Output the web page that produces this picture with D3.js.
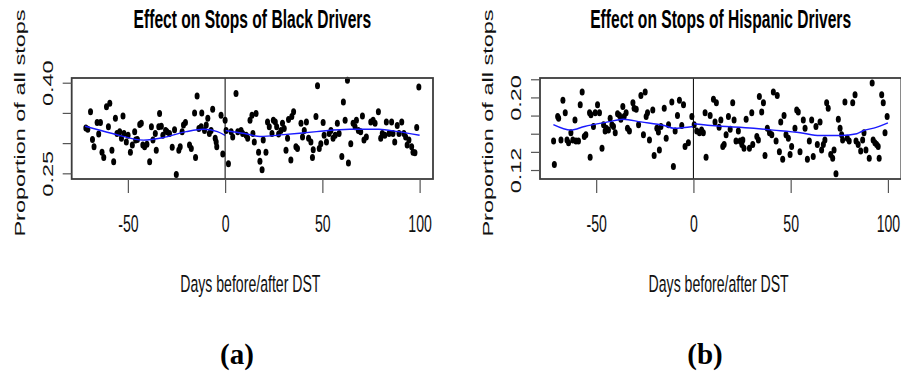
<!DOCTYPE html>
<html>
<head>
<meta charset="utf-8">
<script src="https://cdn.jsdelivr.net/npm/d3@7"></script>
<style>
body { margin: 0; background: #fff; }
svg { display: block; }
text { font-family: "Liberation Sans", Arial, sans-serif; }
</style>
</head>
<body>
<script>
// ---- data ----
var xTicks = [-50, 0, 50, 100];

var blackDays = [
  -71.6, -70.6, -69.2, -68.2, -67.4, -65.8, -65.0, -64.1, -63.3, -62.4,
  -61.0, -60.0, -59.3, -58.2, -57.3, -56.4, -55.6, -54.2, -53.3, -52.5,
  -52.0, -50.8, -49.9, -48.7, -47.7, -46.5, -46.0, -45.1, -43.9, -43.1,
  -42.3, -41.4, -40.2, -38.8, -37.9, -37.1, -35.9, -35.4, -34.1, -33.7,
  -32.8, -32.0, -30.6, -29.9, -28.6, -27.2, -26.0, -25.1, -23.8, -23.1,
  -22.1, -21.4, -20.4, -18.3, -17.4, -15.7, -15.2, -14.4, -13.5, -12.3,
  -12.0, -10.6, -9.7, -8.9, -8.1, -7.2, -6.4, -5.1, -4.6, -4.3,
  -2.1, -1.2,
  0.0, 0.5, 1.7, 3.1, 3.9, 5.6, 6.5, 8.2, 9.0, 10.8,
  11.6, 12.8, 13.8, 14.3, 15.0, 15.9, 17.2, 17.9, 19.0, 19.6,
  21.0, 21.8, 22.7, 24.1, 24.8, 25.8, 26.5, 27.5, 28.7, 29.5,
  30.4, 31.3, 32.1, 32.6, 33.8, 34.3, 35.2, 36.4, 37.2, 39.0,
  39.8, 40.7, 41.8, 42.9, 44.1, 44.9, 45.3, 46.7, 47.5, 48.4,
  49.2, 50.4, 50.9, 52.1, 53.5, 54.4, 55.5, 56.6, 57.7, 58.6,
  60.0, 60.8, 61.7, 62.9, 63.4, 64.6, 65.8, 66.8, 67.5, 68.5,
  69.7, 70.6, 71.4, 72.6, 74.9, 76.1, 77.1, 78.8, 80.0, 80.8,
  82.1, 82.9, 84.3, 85.6, 86.3, 87.2, 88.5, 89.4, 90.8, 91.9,
  92.8, 93.6, 94.5, 95.9, 96.6, 97.6, 98.5, 99.6
];
var blackProp = [
  .325, .323, .352, .306, .294, .334, .315, .334, .285, .276,
  .360, .327, .366, .288, .269, .341, .316, .319, .308, .345,
  .316, .302, .313, .285, .297, .319, .305, .306, .331, .333,
  .297, .294, .298, .269, .327, .305, .316, .288, .327, .349,
  .328, .313, .321, .319, .316, .293, .322, .248, .288, .294,
  .319, .330, .334, .297, .291, .350, .276, .378, .324, .327,
  .350, .321, .330, .341, .316, .321, .356, .308, .302, .294,
  .346, .282,
  .338, .321, .266, .319, .310, .382, .319, .321, .316, .313,
  .308, .338, .346, .316, .302, .349, .285, .270, .256, .305,
  .285, .335, .327, .316, .338, .335, .327, .315, .321, .333,
  .324, .288, .308, .339, .272, .344, .352, .294, .291, .333,
  .310, .321, .335, .308, .302, .276, .289, .344, .395, .291,
  .299, .334, .313, .302, .316, .321, .308, .313, .333, .316,
  .278, .368, .338, .404, .267, .299, .333, .327, .338, .321,
  .319, .345, .305, .310, .335, .338, .333, .352, .308, .316,
  .313, .335, .316, .335, .316, .302, .329, .316, .335, .316,
  .310, .297, .305, .294, .285, .284, .326, .393
];
var blackSmoothBefore = [[-72, .328], [-58, .316], [-42, .305], [-32, .309], [-20, .319], [-11, .323], [-4, .319], [0, .313]];
var blackSmoothAfter = [[0, .321], [10, .316], [18, .311], [30, .314], [47, .319], [64, .323], [79, .323], [89, .319], [100, .313]];
var blackYTicks = [.25, .30, .35, .40];
var blackYLabels = [.25, .40];

var hispDays = [
  -71.9, -71.5, -69.8, -69.3, -68.1, -67.1, -65.9, -65.0, -64.2, -63.0,
  -62.0, -60.9, -60.4, -59.1, -58.2, -57.2, -56.1, -55.3, -53.4, -53.1,
  -52.7, -51.4, -50.5, -49.3, -48.3, -47.0, -46.2, -45.4, -44.8, -43.7,
  -42.8, -41.9, -41.1, -40.2, -39.0, -38.0, -37.3, -36.3, -35.6, -34.6,
  -33.9, -32.9, -31.1, -30.5, -29.4, -28.2, -27.0, -25.7, -24.8, -24.3,
  -23.6, -22.6, -20.9, -20.2, -18.8, -18.0, -17.5, -16.7, -15.0, -14.0,
  -12.8, -11.1, -10.3, -9.4, -8.2, -7.2, -6.0, -5.1, -4.3, -2.6,
  -0.8,
  0.4, 1.7, 3.1, 4.2, 5.1, 6.0, 6.5, 8.6, 10.3, 11.1,
  11.8, 13.2, 14.1, 15.1, 15.8, 16.8, 18.0, 18.9, 20.2, 20.9,
  21.9, 23.1, 24.0, 24.9, 25.4, 26.0, 27.1, 28.8, 30.0, 30.5,
  32.6, 33.4, 33.9, 35.1, 36.0, 36.8, 38.0, 39.1, 40.3, 41.1,
  42.5, 43.1, 44.2, 44.9, 45.9, 46.6, 47.6, 48.8, 49.7, 50.5,
  52.2, 53.1, 53.9, 54.8, 56.5, 57.4, 58.6, 59.6, 60.8, 61.6,
  63.0, 63.7, 65.1, 65.9, 66.8, 67.6, 68.5, 69.3, 70.6, 71.6,
  72.3, 73.3, 74.5, 75.4, 76.2, 76.7, 77.9, 79.1, 80.1, 81.9,
  83.1, 83.6, 84.7, 86.0, 87.0, 87.7, 88.7, 90.4, 91.9, 92.4,
  93.3, 94.2, 95.0, 95.5, 96.8, 97.6, 98.5, 99.6
];
var hispProp = [
  .152, .126, .179, .177, .153, .197, .183, .153, .150, .161,
  .153, .175, .152, .152, .192, .206, .157, .159, .183, .134,
  .181, .168, .183, .192, .183, .144, .170, .163, .166, .164,
  .177, .170, .168, .161, .182, .180, .176, .190, .179, .183,
  .166, .163, .194, .188, .187, .170, .202, .159, .206, .179,
  .183, .153, .186, .136, .166, .162, .142, .168, .188, .155,
  .170, .195, .124, .163, .180, .197, .169, .192, .146, .150,
  .179,
  .170, .163, .161, .164, .161, .183, .134, .180, .198, .173,
  .194, .167, .175, .146, .148, .159, .179, .165, .194, .175,
  .152, .163, .152, .148, .153, .144, .176, .144, .183, .148,
  .157, .153, .201, .184, .194, .136, .166, .161, .159, .206,
  .152, .202, .140, .173, .132, .180, .159, .155, .137, .146,
  .166, .186, .184, .140, .175, .166, .132, .152, .175, .135,
  .168, .148, .173, .142, .148, .153, .194, .188, .137, .133,
  .142, .116, .176, .166, .159, .153, .195, .155, .152, .194,
  .203, .152, .148, .141, .153, .161, .142, .133, .216, .153,
  .150, .148, .146, .133, .203, .194, .161, .179
];
var hispSmoothBefore = [[-72, .170], [-63, .164], [-56, .168], [-44, .173], [-36, .176], [-27, .173], [-15, .169], [-10, .166], [0, .168]];
var hispSmoothAfter = [[0, .171], [9, .169], [31, .166], [41, .164], [55, .161], [65, .158], [76, .158], [84, .160], [87, .163], [94, .167], [100, .172]];
var hispYTicks = [.12, .14, .16, .18, .20, .22];
var hispYLabels = [.12, .20];

// ---- layout ----
var sx = 0.6;          // the source figure is squeezed horizontally
var fs = 23.5;
var plotTop = 78, plotBottom = 179, plotW = 361.3;

var panels = [
  {title: 'Effect on Stops of Black Drivers', caption: '(a)', captionX: 237, left: 71.7,
   days: blackDays, prop: blackProp, before: blackSmoothBefore, after: blackSmoothAfter,
   yTicks: blackYTicks, yLabels: blackYLabels, yDomain: [0.2406, 0.4078]},
  {title: 'Effect on Stops of Hispanic Drivers', caption: '(b)', captionX: 705, left: 540,
   days: hispDays, prop: hispProp, before: hispSmoothBefore, after: hispSmoothAfter,
   yTicks: hispYTicks, yLabels: hispYLabels, yDomain: [0.1101, 0.2214]}
];

var svg = d3.select('body').append('svg')
  .attr('width', 901)
  .attr('height', 379);

svg.append('rect').attr('width', 901).attr('height', 379).attr('fill', '#fff');

panels.forEach(function (p) {
  var g = svg.append('g');
  var x = d3.scaleLinear().domain([-78.88, 106.88]).range([p.left, p.left + plotW]);
  var y = d3.scaleLinear().domain(p.yDomain).range([plotBottom, plotTop]);
  var cx = p.left + plotW / 2;

  // points
  g.append('g').selectAll('ellipse')
    .data(p.days)
    .enter().append('ellipse')
    .attr('cx', function (d) { return x(d); })
    .attr('cy', function (d, i) { return y(p.prop[i]); })
    .attr('rx', 2.5)
    .attr('ry', 3.5)
    .attr('fill', '#000');

  // smooth fits either side of DST
  var line = d3.line()
    .x(function (d) { return x(d[0]); })
    .y(function (d) { return y(d[1]); })
    .curve(d3.curveMonotoneX);
  [p.before, p.after].forEach(function (s) {
    g.append('path')
      .attr('d', line(s))
      .attr('fill', 'none')
      .attr('stroke', '#1a1aff')
      .attr('stroke-width', 1.4);
  });

  // DST line
  g.append('line')
    .attr('x1', x(0)).attr('x2', x(0))
    .attr('y1', plotTop).attr('y2', plotBottom)
    .attr('stroke', '#000')
    .attr('stroke-width', 1);

  // box
  g.append('rect')
    .attr('x', p.left).attr('y', plotTop)
    .attr('width', plotW).attr('height', plotBottom - plotTop)
    .attr('fill', 'none')
    .attr('stroke', '#3c3c3c')
    .attr('stroke-width', 1.8);

  // x axis
  var xa = g.append('g')
    .attr('transform', 'translate(0,' + plotBottom + ')')
    .call(d3.axisBottom(x).tickValues(xTicks).tickSize(14).tickFormat(function (d) { return String(d); }));
  xa.select('.domain').remove();
  xa.selectAll('line').attr('stroke', '#555').attr('stroke-width', 1.2);
  xa.selectAll('text')
    .attr('y', 0).attr('dy', 0)
    .attr('transform', 'translate(0,53) scale(' + sx + ',1)')
    .attr('font-size', fs)
    .attr('font-family', '"Liberation Sans", Arial, sans-serif')
    .attr('fill', '#111');

  // y axis
  var ya = g.append('g')
    .attr('transform', 'translate(' + p.left + ',0)')
    .call(d3.axisLeft(y).tickValues(p.yTicks).tickSize(9)
      .tickFormat(function (d) {
        return p.yLabels.some(function (v) { return Math.abs(v - d) < 1e-9; }) ? d3.format('.2f')(d) : '';
      }));
  ya.select('.domain').remove();
  ya.selectAll('line').attr('stroke', '#555').attr('stroke-width', 1.2);
  ya.selectAll('.tick text')
    .attr('x', 0).attr('dy', 0)
    .attr('text-anchor', 'middle')
    .attr('transform', 'translate(-18.7,0) scale(' + sx + ',1) rotate(-90)')
    .attr('font-size', fs)
    .attr('font-family', '"Liberation Sans", Arial, sans-serif')
    .attr('fill', '#111');

  // titles and labels
  g.append('text')
    .attr('transform', 'translate(' + cx + ',28) scale(' + sx + ',1)')
    .attr('text-anchor', 'middle')
    .attr('font-size', 26)
    .attr('font-weight', 'bold')
    .text(p.title);

  g.append('text')
    .attr('transform', 'translate(' + (cx - 2) + ',291.5) scale(' + sx + ',1)')
    .attr('text-anchor', 'middle')
    .attr('font-size', fs)
    .attr('fill', '#111')
    .text('Days before/after DST');

  g.append('text')
    .attr('transform', 'translate(' + (p.left - 47.2) + ',123) scale(' + sx + ',1) rotate(-90)')
    .attr('text-anchor', 'middle')
    .attr('font-size', fs)
    .attr('fill', '#111')
    .text('Proportion of all stops');

  g.append('text')
    .attr('x', p.captionX)
    .attr('y', 364)
    .attr('text-anchor', 'middle')
    .attr('font-size', 29)
    .attr('font-weight', 'bold')
    .style('font-family', '"Liberation Serif", "DejaVu Serif", serif')
    .text(p.caption);
});
</script>
</body>
</html>
